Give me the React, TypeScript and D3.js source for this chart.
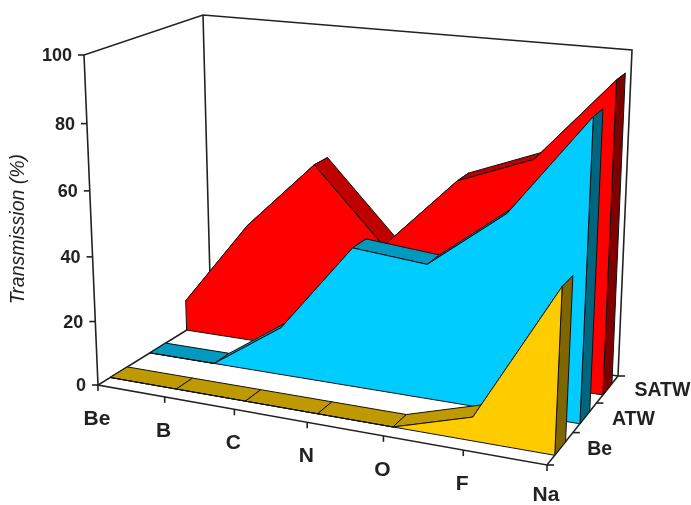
import React from "react";
import * as d3 from "d3";

const categories = ["Be", "B", "C", "N", "O", "F", "Na"];
const seriesNames = ["Be", "ATW", "SATW"];
const beValues = [0, 0, 0, 0, 0, 7, 48];
const atwValues = [0, 0, 15, 43, 41, 59, 89];
const satwValues = [10, 38, 60, 37, 60, 69, 94.5];
const yTicks = [0, 20, 40, 60, 80, 100];
const seriesValues = [beValues, atwValues, satwValues];
const faceColors = ["#FFCC00", "#00CCFF", "#FF0000"];
const topColors = ["#BF9900", "#0099BF", "#BF0000"];
const endColors = ["#806600", "#006680", "#800000"];

type P = [number, number];

// camera: the floor and ceiling of the plot box, in page pixels
const floorQuad: P[] = [[98, 385], [547, 465], [618, 376], [211, 315]];
const ceilQuad: P[] = [[84, 55], [563, 100], [632, 50], [203, 15]];

function homography(q: P[]) {
  const [[x0, y0], [x1, y1], [x2, y2], [x3, y3]] = q;
  const dx1 = x1 - x2, dx2 = x3 - x2, sx = x0 - x1 + x2 - x3;
  const dy1 = y1 - y2, dy2 = y3 - y2, sy = y0 - y1 + y2 - y3;
  const den = dx1 * dy2 - dx2 * dy1;
  const g = (sx * dy2 - dx2 * sy) / den;
  const h = (dx1 * sy - sx * dy1) / den;
  const a = x1 - x0 + g * x1, b = x3 - x0 + h * x3;
  const d = y1 - y0 + g * y1, e = y3 - y0 + h * y3;
  return (u: number, v: number): P => {
    const w = g * u + h * v + 1;
    return [(a * u + b * v + x0) / w, (d * u + e * v + y0) / w];
  };
}

const floorAt = homography(floorQuad);
const ceilAt = homography(ceilQuad);

const xScale = d3.scalePoint<string>().domain(categories).range([0, 1]);
const zScale = d3.scaleBand<string>().domain(seriesNames).range([0, 1]).paddingInner(0.58).paddingOuter(0.29);
const zOuter = d3.scaleBand<string>().domain(seriesNames).range([0, 1]);
const vScale = d3.scaleLinear().domain([0, 100]).range([0, 1]);

function project(u: number, z: number, value: number): P {
  const t0 = vScale(value);
  const t = t0 / (1 + 0.05 * (1 - t0));
  const a = floorAt(u, z);
  const b = ceilAt(u, z);
  return [a[0] + (b[0] - a[0]) * t, a[1] + (b[1] - a[1]) * t];
}

const path = d3.line<P>().x((d) => d[0]).y((d) => d[1]);
const poly = (pts: P[]) => (path(pts) as string) + "Z";
const STROKE = "#111";
const FONT = "'Liberation Sans', Arial, sans-serif";

function Series({ idx }: { idx: number }) {
  const name = seriesNames[idx];
  const vals = seriesValues[idx];
  const zf = zScale(name) as number;
  const zb = zf + zScale.bandwidth();
  const us = categories.map((c) => xScale(c) as number);
  const front = us.map((u, i) => project(u, zf, vals[i]));
  const back = us.map((u, i) => project(u, zb, vals[i]));
  const last = us.length - 1;
  const common = { stroke: STROKE, strokeWidth: 1, strokeLinejoin: "round" as const };
  return (
    <g>
      {us.slice(0, last).map((_, i) => (
        <path key={i} d={poly([front[i], front[i + 1], back[i + 1], back[i]])} fill={topColors[idx]} {...common} />
      ))}
      <path
        d={poly([project(us[last], zf, 0), front[last], back[last], project(us[last], zb, 0)])}
        fill={endColors[idx]}
        {...common}
      />
      <path d={poly([project(us[0], zf, 0), ...front, project(us[last], zf, 0)])} fill={faceColors[idx]} {...common} />
    </g>
  );
}

export default function App() {
  const axis = { stroke: "#222", strokeWidth: 1.6, fill: "none" };
  const FL = project(0, 0, 0), FR = project(1, 0, 0), BR = project(1, 1, 0), BL = project(0, 1, 0);
  const FLt = project(0, 0, 100), BLt = project(0, 1, 100), BRt = project(1, 1, 100);
  return (
    <svg
      width={691}
      height={505}
      style={{ position: "absolute", left: 0, top: 0, background: "#fff", filter: "blur(0.45px)" }}
      fontFamily={FONT}
    >
      <path d={path([FL, FLt, BLt, BRt, BR]) as string} {...axis} />
      <path d={path([BLt, BL, BR]) as string} {...axis} />
      <path d={path([BL, FL, FR, BR]) as string} {...axis} />

      {yTicks.map((t) => {
        const [x, y] = project(0, 0, t);
        return (
          <g key={t}>
            <line x1={x - 6} x2={x} y1={y} y2={y} {...axis} />
            <text x={x - 12} y={y + 6} textAnchor="end" fontSize={18} fontWeight="bold" fill="#222">
              {t}
            </text>
          </g>
        );
      })}

      {categories.map((c) => {
        const [x, y] = project(xScale(c) as number, 0, 0);
        return (
          <g key={c}>
            <line x1={x} x2={x} y1={y} y2={y + 6} {...axis} />
            <text x={x - 1} y={Math.min(y + 40, 501)} textAnchor="middle" fontSize={21} fontWeight="bold" fill="#222">
              {c}
            </text>
          </g>
        );
      })}

      {[0, 1, 2, 3].map((i) => {
        const [x, y] = project(1, i / 3, 0);
        return <line key={i} x1={x} x2={x + 7} y1={y} y2={y} {...axis} />;
      })}
      {seriesNames.map((s) => {
        const z = (zOuter(s) as number) + zOuter.bandwidth() / 2;
        const [x, y] = project(1, z, 0);
        return (
          <text key={s} x={x + 27} y={y + 7} fontSize={19.5} fontWeight="bold" fill="#222">
            {s}
          </text>
        );
      })}

      {[2, 1, 0].map((i) => (
        <Series key={i} idx={i} />
      ))}

      <text
        transform="translate(24,229) rotate(-90)"
        textAnchor="middle"
        fontSize={19.5}
        fontStyle="italic"
        fill="#222"
      >
        Transmission (%)
      </text>
    </svg>
  );
}
